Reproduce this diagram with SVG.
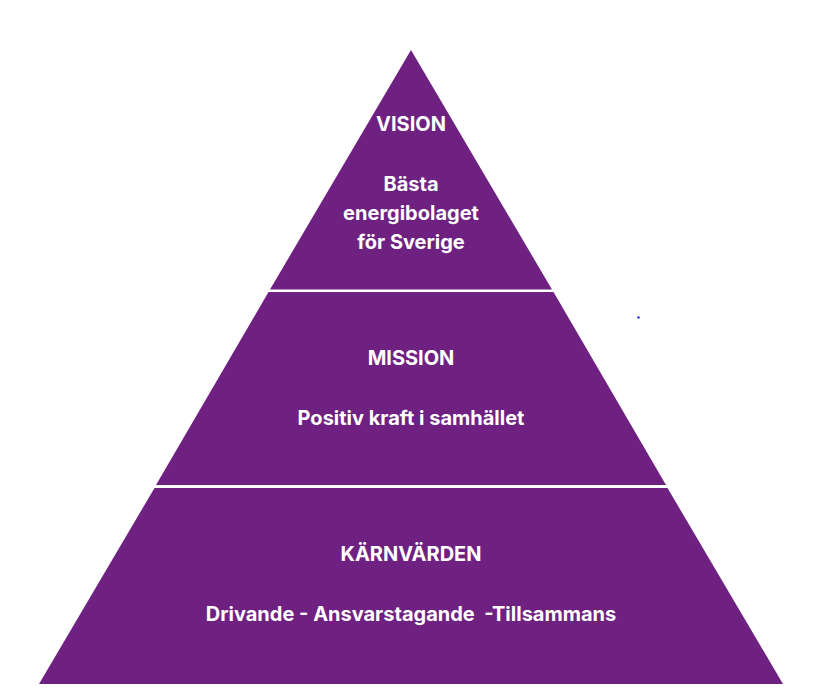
<svg xmlns="http://www.w3.org/2000/svg" width="821" height="696" viewBox="0 0 821 696">
<style>
.band{fill:#6f2182}
.t{fill:#ffffff;font-family:Inter,"Noto Sans",sans-serif;font-weight:700;font-size:20px;text-anchor:middle}
</style>
<rect width="821" height="696" fill="#ffffff"/>
<g id="vision">
<polygon class="band" points="411,50 552,289.5 270,289.5"/>
<text class="t" x="411" y="131">VISION</text>
<text class="t" x="411" y="191">Bästa</text>
<text class="t" x="411" y="220">energibolaget</text>
<text class="t" x="411" y="249">för Sverige</text>
</g>
<g id="mission">
<polygon class="band" points="268.5,292 553.5,292 666,485 156,485"/>
<text class="t" x="411" y="365">MISSION</text>
<text class="t" x="411" y="425">Positiv kraft i samhället</text>
</g>
<g id="karnvarden">
<polygon class="band" points="154.5,488 667.5,488 783,684 39,684"/>
<text class="t" x="411" y="561">KÄRNVÄRDEN</text>
<text class="t" x="411" y="621" xml:space="preserve">Drivande - Ansvarstagande  -Tillsammans</text>
</g>
<g id="connectors"></g>
<circle cx="638.5" cy="317.5" r="1.2" fill="#2020ff"/>
</svg>
